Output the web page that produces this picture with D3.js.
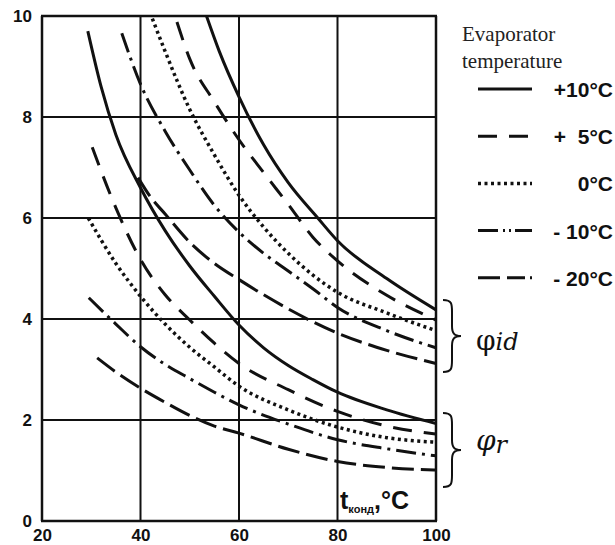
<!DOCTYPE html>
<html>
<head>
<meta charset="utf-8">
<script src="https://cdn.jsdelivr.net/npm/d3@7"></script>
<style>
    body { margin: 0; background: #fff; }
    svg { display: block; }
    .tick text {
        font-family: "Liberation Sans", Arial, sans-serif;
        font-weight: bold;
        font-size: 17px;
        fill: #111;
    }
    .lbl { font-family: "Liberation Sans", Arial, sans-serif; font-weight: bold; fill: #111; }
</style>
</head>
<body>
<svg id="chart" width="615" height="545"></svg>
<script>
// axis ticks
const xTicks = [20, 40, 60, 80, 100];
const yTicks = [0, 2, 4, 6, 8, 10];

// legend entries, evaporator temperature
const evapLabels = ['+10°C', '+\u20075°C', '0°C', '- 10°C', '- 20°C'];

// ideal cycle (phi_id), points are [t_cond, phi]
const idPlus10 = [[53.4,10],[56,9.3],[60,8.4],[65,7.45],[70,6.7],[76,6.0],[80,5.55],[90,4.8],[100,4.18]];
const idPlus5  = [[47.4,9.88],[50,9.15],[55,8.3],[60,7.55],[65,6.9],[70,6.27],[75,5.62],[80,5.15],[90,4.47],[100,3.98]];
const idZero   = [[42.4,9.95],[45,9.3],[50,8.15],[55,7.25],[60,6.45],[65,5.82],[70,5.3],[75,4.87],[80,4.53],[90,4.12],[100,3.77]];
const idMinus10 = [[36.2,9.66],[40,8.65],[45,7.72],[50,6.95],[55,6.25],[60,5.72],[65,5.3],[70,4.95],[75,4.6],[80,4.23],[90,3.77],[100,3.43]];
const idMinus20 = [[39.5,6.8],[42,6.42],[45,6.08],[50,5.52],[55,5.1],[60,4.78],[65,4.48],[70,4.2],[80,3.72],[90,3.38],[100,3.12]];

// real cycle (phi_r)
const rPlus10 = [[29.3,9.7],[32,8.6],[35,7.65],[40,6.6],[45,5.75],[50,5.05],[55,4.45],[60,3.88],[65,3.43],[70,3.08],[75,2.8],[80,2.55],[90,2.2],[100,1.93]];
const rPlus5  = [[30.2,7.4],[35,6.2],[40,5.18],[45,4.48],[50,3.98],[55,3.52],[60,3.12],[70,2.6],[80,2.17],[90,1.88],[100,1.72]];
const rZero   = [[29.4,6.0],[35,5.1],[40,4.45],[45,3.9],[50,3.44],[55,3.05],[60,2.67],[70,2.2],[80,1.86],[90,1.65],[100,1.56]];
const rMinus10 = [[29.5,4.42],[35,3.9],[40,3.45],[45,3.1],[50,2.82],[55,2.55],[60,2.3],[70,1.92],[80,1.61],[90,1.43],[100,1.29]];
const rMinus20 = [[31.2,3.23],[35,2.95],[40,2.63],[45,2.35],[50,2.09],[55,1.88],[60,1.74],[70,1.42],[80,1.18],[90,1.06],[100,1.01]];

// line style per evaporator temperature
const dashes = ['none', '19,12', '3,3.5', '20,6,3,6', '22,7'];
const legendDashes = ['none', '19,12', '3,3.5', '20,5,2,4,2,4', '22,7,18,5,3'];

const curves = [
    idPlus10, idPlus5, idZero, idMinus10, idMinus20
].map((pts, i) => ({group: 'id', k: i, pts: pts}))
 .concat([rPlus10, rPlus5, rZero, rMinus10, rMinus20].map((pts, i) => ({group: 'r', k: i, pts: pts})));

const plot = {left: 42, right: 436, top: 16, bottom: 521};
const ink = '#111';

let svg = d3.select('#chart');

let x = d3.scaleLinear().domain([20, 100]).range([plot.left, plot.right]);
let y = d3.scaleLinear().domain([0, 10]).range([plot.bottom, plot.top]);

// grid
let grid = svg.append('g').attr('id', 'grid');
grid.selectAll('line.v')
    .data(xTicks)
    .join('line')
        .attr('class', 'v')
        .attr('x1', d => x(d)).attr('x2', d => x(d))
        .attr('y1', y(0)).attr('y2', y(10))
        .attr('stroke', ink)
        .attr('stroke-width', d => (d === 20 || d === 100) ? 2.5 : 2);
grid.selectAll('line.h')
    .data(yTicks)
    .join('line')
        .attr('class', 'h')
        .attr('x1', x(20) - 1).attr('x2', x(100) + 1)
        .attr('y1', d => y(d)).attr('y2', d => y(d))
        .attr('stroke', ink)
        .attr('stroke-width', d => (d === 0 || d === 10) ? 2.5 : 2);

// axes (labels only)
let xAxis = svg.append('g')
    .attr('transform', `translate(0, ${plot.bottom})`)
    .call(d3.axisBottom(x).tickValues(xTicks).tickSize(0).tickPadding(8));
xAxis.select('.domain').remove();

let yAxis = svg.append('g')
    .attr('transform', `translate(${plot.left}, 0)`)
    .call(d3.axisLeft(y).tickValues(yTicks).tickSize(0).tickPadding(10));
yAxis.select('.domain').remove();

// curves
let line = d3.line()
    .x(d => x(d[0]))
    .y(d => y(d[1]))
    .curve(d3.curveMonotoneX);

svg.append('g').attr('id', 'curves')
    .selectAll('path')
    .data(curves)
    .join('path')
        .attr('d', d => line(d.pts))
        .attr('fill', 'none')
        .attr('stroke', ink)
        .attr('stroke-width', d => d.k === 2 ? 3.5 : 3)
        .attr('stroke-dasharray', d => dashes[d.k]);

// condenser temperature label
let tl = svg.append('text')
    .attr('class', 'lbl')
    .attr('x', 340)
    .attr('y', 509)
    .style('font-size', '25px');
tl.append('tspan').text('t');
tl.append('tspan').attr('dy', 4).style('font-size', '11px').text('конд');
tl.append('tspan').attr('dy', -4).text(',°C');

// legend
let legend = svg.append('g').attr('id', 'legend');
legend.append('text')
    .attr('x', 462).attr('y', 41)
    .style('font-family', '"Liberation Serif", "Times New Roman", serif')
    .style('font-size', '21px')
    .attr('fill', '#222')
    .text('Evaporator');
legend.append('text')
    .attr('x', 462).attr('y', 68)
    .style('font-family', '"Liberation Serif", "Times New Roman", serif')
    .style('font-size', '21px')
    .attr('fill', '#222')
    .text('temperature');

let items = legend.selectAll('g.item')
    .data(evapLabels)
    .join('g')
        .attr('class', 'item')
        .attr('transform', (d, i) => `translate(0, ${89 + i * 47.2})`);
items.append('line')
    .attr('x1', 478).attr('x2', 532)
    .attr('y1', 0).attr('y2', 0)
    .attr('stroke', ink)
    .attr('stroke-width', (d, i) => i === 2 ? 3.5 : 3)
    .attr('stroke-dasharray', (d, i) => legendDashes[i]);
items.append('text')
    .attr('class', 'lbl')
    .attr('x', 613).attr('y', 8)
    .attr('text-anchor', 'end')
    .style('font-size', '21px')
    .text(d => d);

// braces for the two groups
function brace(y0, y1) {
    let xm = 452, x0 = 443, tip = 461, ym = (y0 + y1) / 2;
    return `M${x0},${y0} C${xm},${y0} ${xm},${y0 + 4} ${xm},${y0 + 12}` +
        ` L${xm},${ym - 10} C${xm},${ym - 3} ${xm + 2},${ym} ${tip},${ym}` +
        ` C${xm + 2},${ym} ${xm},${ym + 3} ${xm},${ym + 10}` +
        ` L${xm},${y1 - 12} C${xm},${y1 - 4} ${xm},${y1} ${x0},${y1}`;
}
let groups = [{name: 'id', y0: 300, y1: 372}, {name: 'r', y0: 413, y1: 487}];
svg.append('g').selectAll('path')
    .data(groups)
    .join('path')
        .attr('d', d => brace(d.y0, d.y1))
        .attr('fill', 'none')
        .attr('stroke', ink)
        .attr('stroke-width', 2);

let phiId = svg.append('text')
    .attr('x', 476).attr('y', 350)
    .style('font-family', '"DejaVu Serif", "Liberation Serif", serif')
    .style('font-size', '28px')
    .attr('fill', ink);
phiId.append('tspan').text('φ');
phiId.append('tspan').style('font-style', 'italic').style('font-size', '24px').text('id');

let phiR = svg.append('text')
    .attr('x', 476).attr('y', 450)
    .style('font-family', '"DejaVu Serif", "Liberation Serif", serif')
    .style('font-style', 'italic')
    .style('font-size', '28px')
    .attr('fill', ink);
phiR.append('tspan').text('φ');
phiR.append('tspan').style('font-size', '24px').attr('dy', 3).text('r');
</script>
</body>
</html>
